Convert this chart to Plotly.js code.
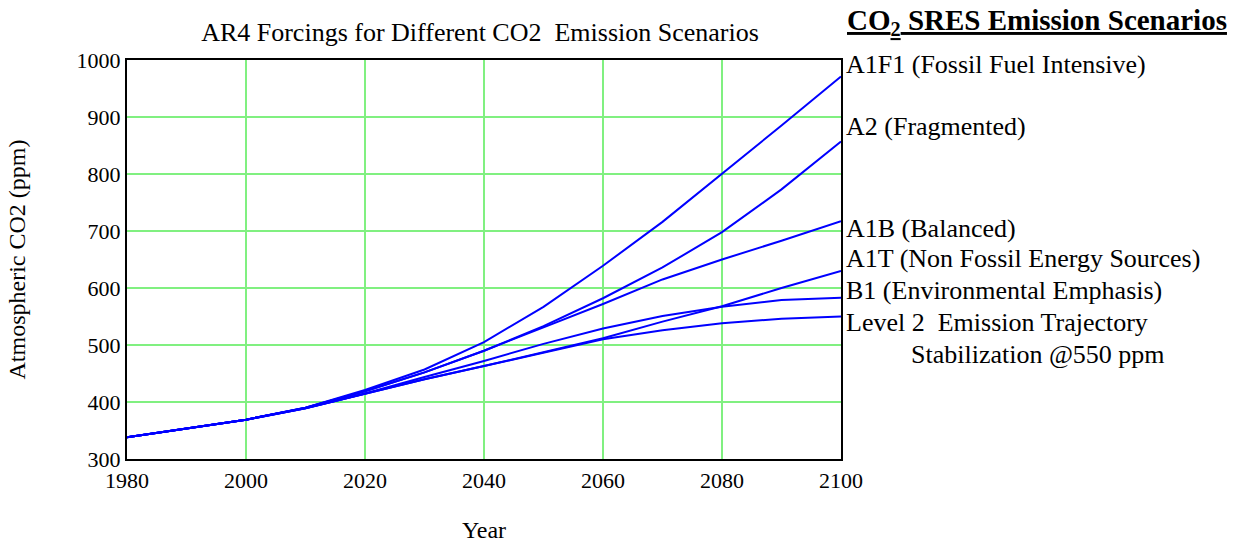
<!DOCTYPE html>
<html>
<head>
<meta charset="utf-8">
<script src="https://cdn.plot.ly/plotly-3.0.1.min.js"></script>
<style>html,body{margin:0;padding:0;background:#fff;}#chart{width:1236px;height:543px;}</style>
</head>
<body>
<div id="chart"></div>
<script>
const years = [1980,1990,2000,2010,2020,2030,2040,2050,2060,2070,2080,2090,2100];
const a1f1 = [338,353,369,390,421,457,505,567,639,716,800,885,971];
const a2   = [338,353,369,390,419,452,490,533,582,636,698,773,857];
const a1b  = [338,353,369,390,419,452,490,531,572,615,650,683,717];
const a1t  = [338,353,369,389,414,440,463,488,512,541,568,600,630];
const b1   = [338,353,369,389,415,444,472,502,529,551,567,579,583];
const lvl2 = [338,353,369,389,414,440,463,486,510,526,538,546,550];
const seriesNames = ['A1F1','A2','A1B','A1T','B1','Level 2'];
const labelTexts = [
  'A1F1 (Fossil Fuel Intensive)',
  'A2 (Fragmented)',
  'A1B (Balanced)',
  'A1T (Non Fossil Energy Sources)',
  'B1 (Environmental Emphasis)',
  'Level 2  Emission Trajectory',
  'Stabilization @550 ppm'
];
const xTicks = [1980,2000,2020,2040,2060,2080,2100];
const yTicks = [300,400,500,600,700,800,900,1000];

const allSeries = [a1f1,a2,a1b,a1t,b1,lvl2];
const traces = allSeries.map((s,i)=>({
  x: years, y: s, name: seriesNames[i], type:'scatter', mode:'lines',
  line:{color:'#0000ff', width:2}, showlegend:false, hoverinfo:'skip'
}));

const L=127, R=841, T=60, B=459;
const py = pix => (B - pix)/(B - T);
const px = pix => (pix - L)/(R - L);
const serif = '"Liberation Serif", "Times New Roman", serif';

const labelY = [64,126,228,258,290,322,354];
const labelX = [844,844,844,844,844,844,909];
const annotations = labelTexts.map((t,i)=>({
  text: t, xref:'paper', yref:'paper', x: px(labelX[i]), y: py(labelY[i]),
  xanchor:'left', yanchor:'middle', showarrow:false,
  font:{family:serif, size:26, color:'#000'}
}));
annotations.push({
  text:'CO<sub>2</sub> SRES Emission Scenarios', xref:'paper', yref:'paper',
  x: px(1037), y: py(22), xanchor:'center', yanchor:'middle', showarrow:false,
  font:{family:serif, size:29, color:'#000', weight:'bold', lineposition:'under'}
});

const layout = {
  width:1236, height:543,
  margin:{l:L, r:1236-R, t:T, b:543-B},
  paper_bgcolor:'#fff', plot_bgcolor:'#fff',
  title:{text:'AR4 Forcings for Different CO2  Emission Scenarios', x:px(480), xref:'paper', xanchor:'center',
         y:1-32/543, yanchor:'middle', font:{family:serif, size:26, color:'#000'}},
  xaxis:{range:[1980,2100], tickvals:xTicks, ticks:'', showgrid:true, gridcolor:'#80f080', gridwidth:2,
         showline:true, linecolor:'#000', linewidth:2, mirror:true, zeroline:false,
         tickfont:{family:serif, size:22, color:'#000'}, ticklabelstandoff:1,
         title:{text:'Year', font:{family:serif, size:24, color:'#000'}, standoff:34}},
  yaxis:{range:[300,1000], tickvals:yTicks, ticks:'', showgrid:true, gridcolor:'#80f080', gridwidth:2,
         showline:true, linecolor:'#000', linewidth:2, mirror:true, zeroline:false,
         tickfont:{family:serif, size:22, color:'#000'},
         title:{text:'Atmospheric CO2 (ppm)', font:{family:serif, size:24, color:'#000'}, standoff:44}},
  annotations: annotations
};
Plotly.newPlot('chart', traces, layout, {staticPlot:true, displayModeBar:false});
</script>
</body>
</html>
